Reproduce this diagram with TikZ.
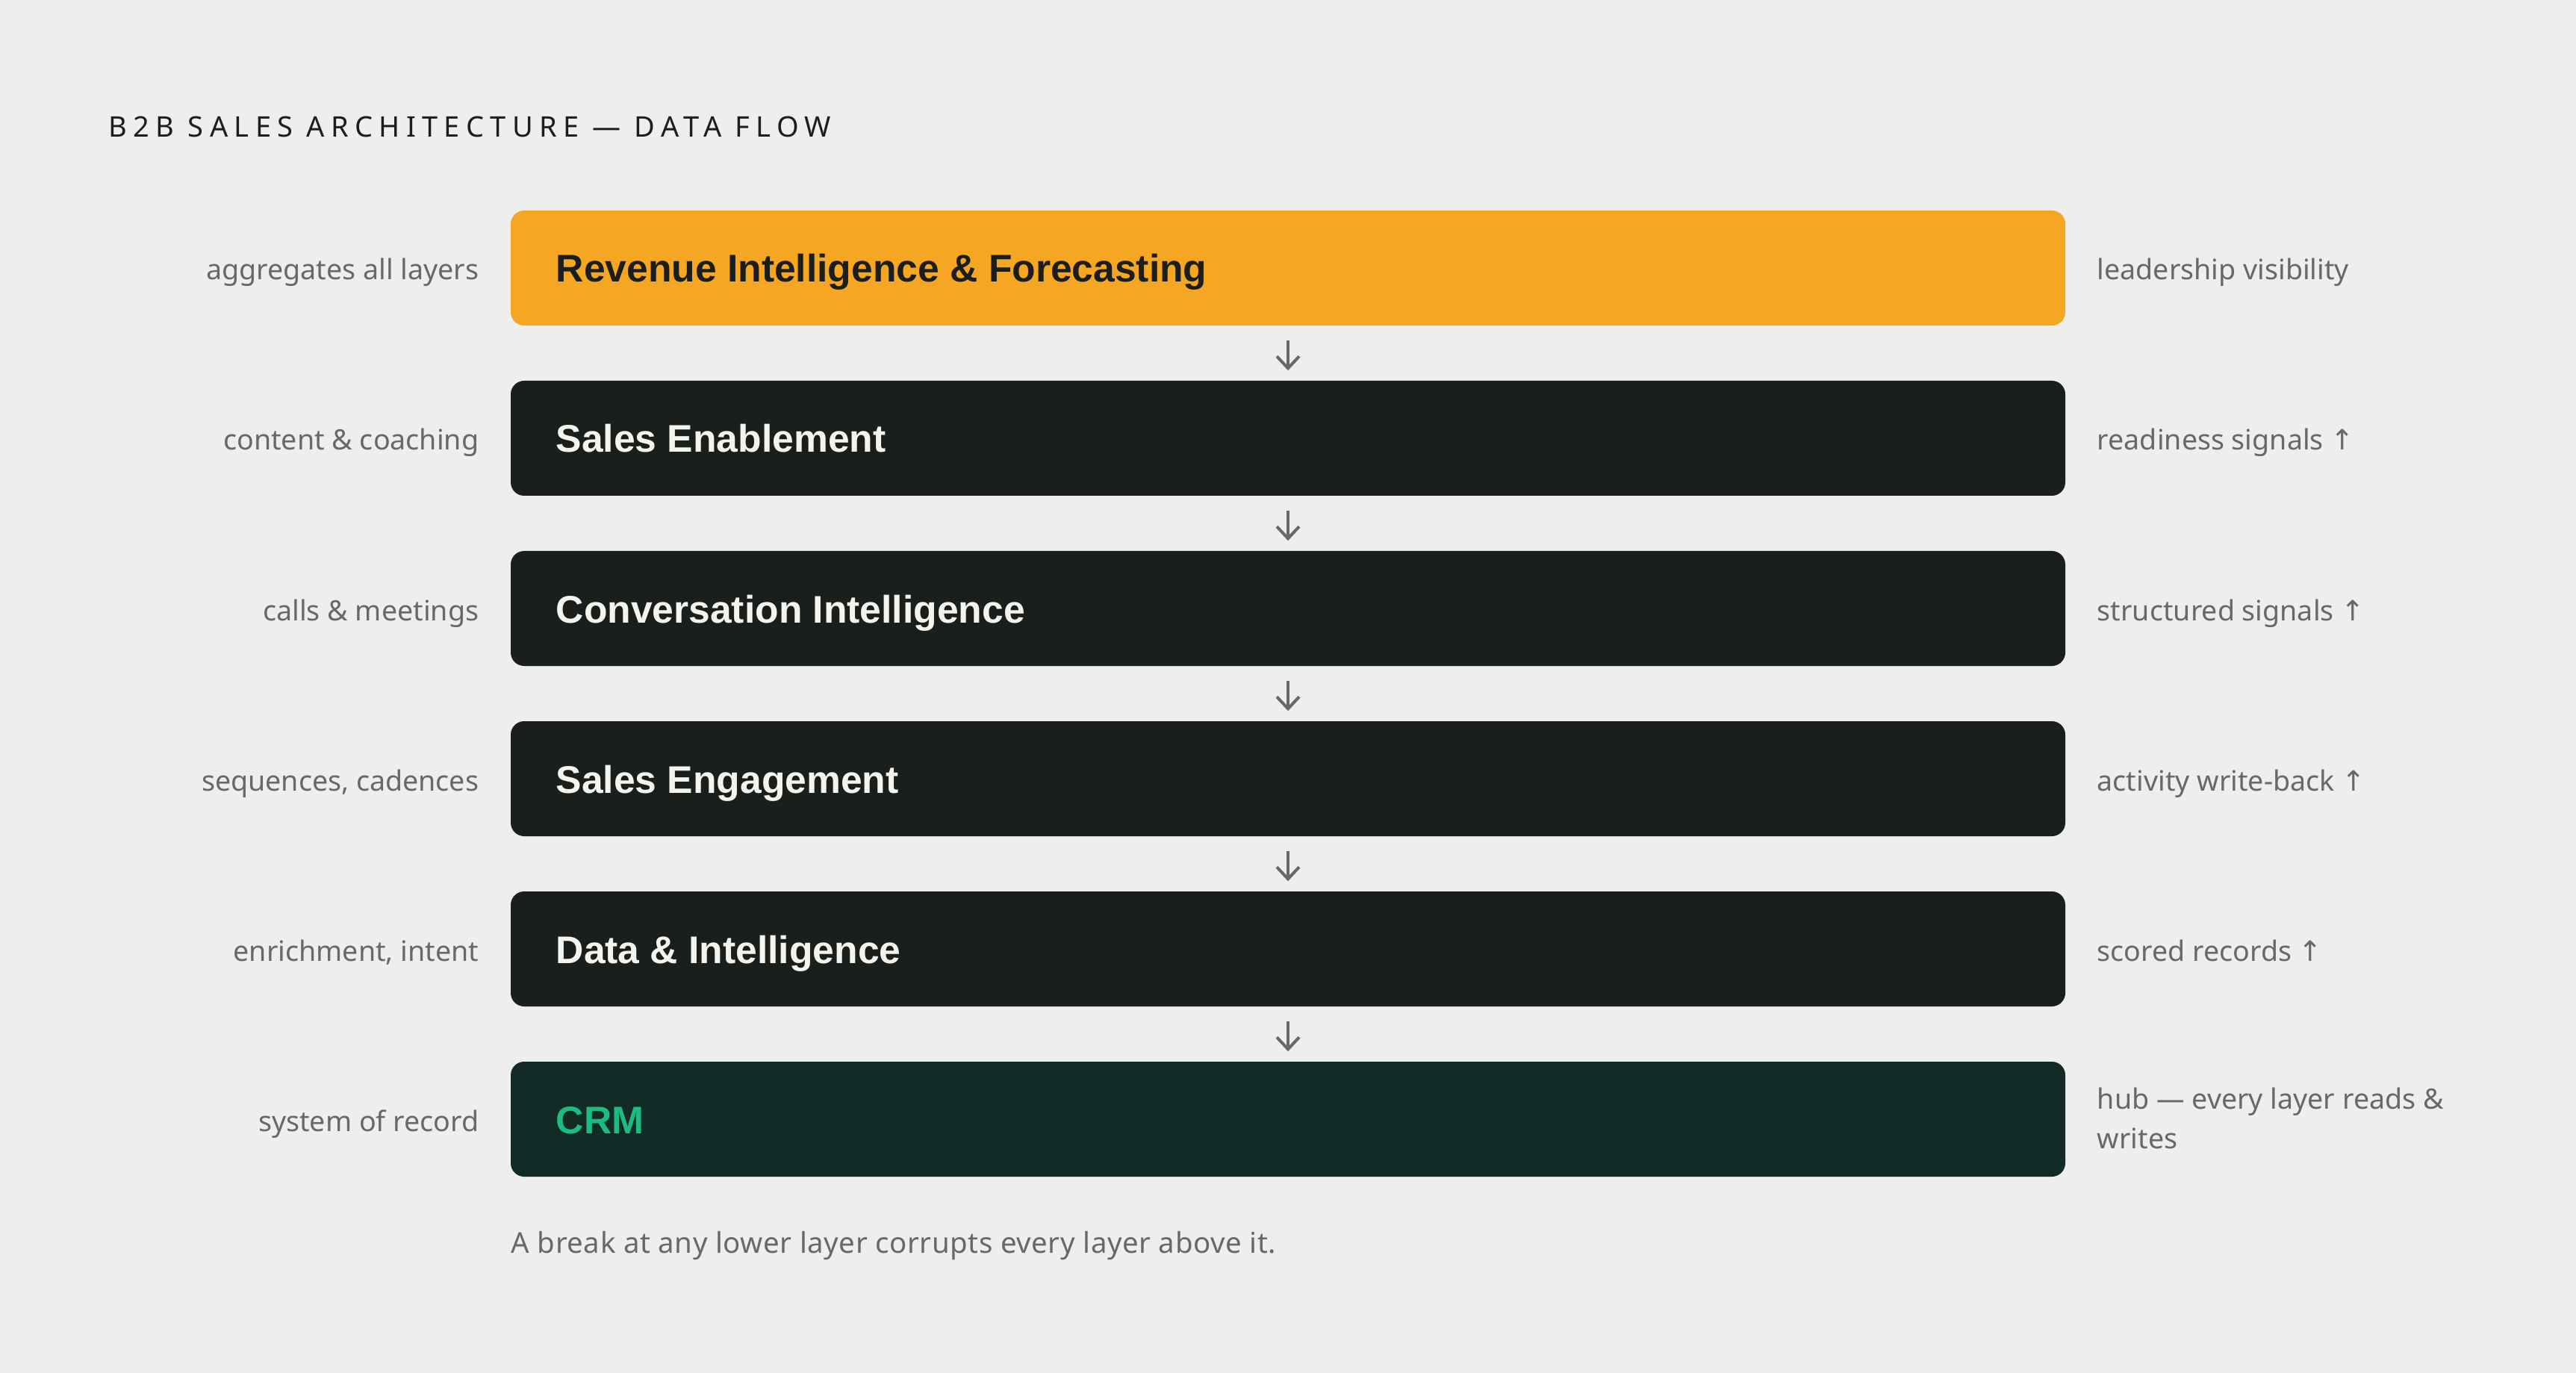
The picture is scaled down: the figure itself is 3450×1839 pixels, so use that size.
\documentclass[tikz,border=0pt]{standalone}
\usepackage{fontspec}
\usetikzlibrary{arrows.meta}
\setmainfont{Noto Sans}
\newfontfamily\boxfont{Liberation Sans}
\newfontfamily\arrowfont{DejaVu Sans}
\newfontfamily\titlefont[LetterSpace=22]{Noto Sans}
\newfontfamily\footfont[LetterSpace=1.5]{Noto Sans}
\definecolor{bgc}{HTML}{EEEFEC}
\definecolor{orangec}{HTML}{F5A623}
\definecolor{darkc}{HTML}{1B1F1C}
\definecolor{crmc}{HTML}{122B26}
\definecolor{greenc}{HTML}{1DBB80}
\definecolor{grayc}{HTML}{666966}
\definecolor{inkc}{HTML}{1B1E1B}
\definecolor{lightc}{HTML}{F3F3EF}
\newcommand{\upar}{{\arrowfont ↑}}
\tikzset{
  layer/.style={draw=none, rounded corners=4.5pt, minimum width=520.5pt, minimum height=38.5pt, inner sep=0pt},
  layertitle/.style={anchor=base west, inner sep=0pt, font=\fontsize{12.9}{14}\selectfont\boxfont\bfseries},
  lbl/.style={inner sep=0pt, text=grayc, font=\fontsize{9.4}{13.25}\selectfont, text height=7pt, text depth=0pt},
  flowarrow/.style={draw=grayc, line width=1pt, -{Straight Barb[length=4pt, width=7.5pt, line width=1pt]}},
}
\begin{document}
\begin{tikzpicture}[x=0.25pt, y=-0.25pt]
\fill[bgc] (0,0) rectangle (3450,1839);
\useasboundingbox (0,0) rectangle (3450,1839);

\node[anchor=base west, inner sep=0pt, text=inkc, font=\fontsize{9.5}{11}\selectfont\titlefont] (title) at (145,184) {B2B SALES ARCHITECTURE — DATA FLOW};

% layer boxes
\node[layer, fill=orangec] (b1) at (1725,359) {};
\node[layer, fill=darkc]   (b2) at (1725,587) {};
\node[layer, fill=darkc]   (b3) at (1725,815) {};
\node[layer, fill=darkc]   (b4) at (1725,1043) {};
\node[layer, fill=darkc]   (b5) at (1725,1271) {};
\node[layer, fill=crmc]    (b6) at (1725,1499) {};

% titles
\node[layertitle, text=inkc]   (t1) at (744,378) {Revenue Intelligence \& Forecasting};
\node[layertitle, text=lightc] (t2) at (744,606) {Sales Enablement};
\node[layertitle, text=lightc] (t3) at (744,834) {Conversation Intelligence};
\node[layertitle, text=lightc] (t4) at (744,1062) {Sales Engagement};
\node[layertitle, text=lightc] (t5) at (744,1290) {Data \& Intelligence};
\node[layertitle, text=greenc] (t6) at (744,1518) {CRM};

% left labels
\node[lbl, anchor=east] (l1) at (642,361) {aggregates all layers};
\node[lbl, anchor=east] (l2) at (642,589) {content \& coaching};
\node[lbl, anchor=east] (l3) at (642,817) {calls \& meetings};
\node[lbl, anchor=east] (l4) at (642,1045) {sequences, cadences};
\node[lbl, anchor=east] (l5) at (642,1273) {enrichment, intent};
\node[lbl, anchor=east] (l6) at (642,1501) {system of record};

% right labels
\node[lbl, anchor=west] (r1) at (2808,361) {leadership visibility};
\node[lbl, anchor=west] (r2) at (2808,589) {readiness signals \upar};
\node[lbl, anchor=west] (r3) at (2808,817) {structured signals \upar};
\node[lbl, anchor=west] (r4) at (2808,1045) {activity write-back \upar};
\node[lbl, anchor=west] (r5) at (2808,1273) {scored records \upar};
\node[lbl, anchor=base west, align=left, text height=, text depth=] (r6) at (2808,1538) {hub — every layer reads \&\\writes};

% arrows
\foreach \a/\b in {b1/b2,b2/b3,b3/b4,b4/b5,b5/b6}{
  \draw[flowarrow] ([yshift=-4.75pt]\a.south) -- ([yshift=3.25pt]\b.north);
}

% footer
\node[anchor=base west, inner sep=0pt, text=grayc, font=\fontsize{9.6}{11}\selectfont\footfont] (foot) at (684,1678) {A break at any lower layer corrupts every layer above it.};
\end{tikzpicture}
\end{document}
